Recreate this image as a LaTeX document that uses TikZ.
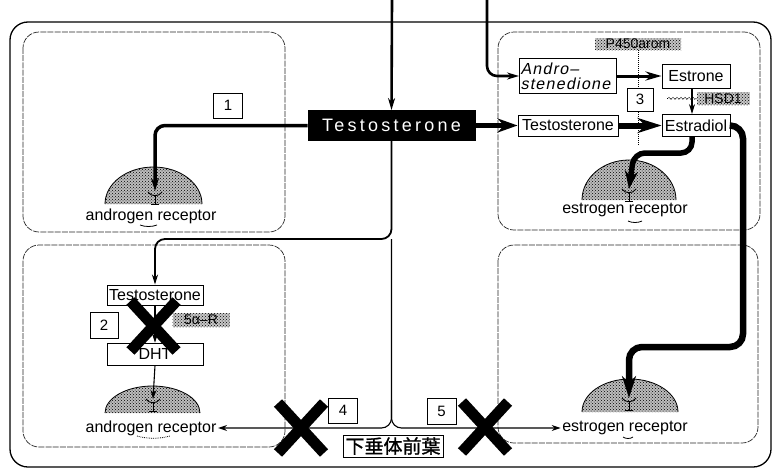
\documentclass[tikz,border=0pt]{standalone}
\usepackage{fontspec}
\setmainfont{Liberation Sans}
\newfontfamily\widef[LetterSpace=18]{Liberation Sans}
\newfontfamily\slantf[FakeSlant=0.2,LetterSpace=8]{Liberation Sans}
\newfontfamily\cjkf[FakeBold=1.2]{Noto Sans CJK JP}
\usetikzlibrary{arrows.meta,patterns,decorations.pathmorphing,calc}
\newcommand\mydome[4]{%
  \fill[black!26] (#1-#3,#2) .. controls (#1-#3,#2-0.552*#4) and (#1-0.552*#3,#2-#4) .. (#1,#2-#4) .. controls (#1+0.552*#3,#2-#4) and (#1+#3,#2-0.552*#4) .. (#1+#3,#2) -- cycle;
  \fill[pattern=crosshatch dots, pattern color=black] (#1-#3,#2) .. controls (#1-#3,#2-0.552*#4) and (#1-0.552*#3,#2-#4) .. (#1,#2-#4) .. controls (#1+0.552*#3,#2-#4) and (#1+#3,#2-0.552*#4) .. (#1+#3,#2) -- cycle;
  \draw[line width=0.8] (#1-#3,#2) .. controls (#1-#3,#2-0.552*#4) and (#1-0.552*#3,#2-#4) .. (#1,#2-#4) .. controls (#1+0.552*#3,#2-#4) and (#1+#3,#2-0.552*#4) .. (#1+#3,#2);}
\begin{document}
\begin{tikzpicture}[x=1pt,y=-1pt,
  box/.style={draw, line width=0.9, fill=white, inner sep=1pt, font=\fontsize{16}{18}\selectfont},
  numbox/.style={draw, line width=0.8, fill=white, inner sep=0pt, minimum width=29, minimum height=25, font=\fontsize{15}{16}\selectfont},
  hatchlbl/.style={preaction={fill=black!22}, pattern=crosshatch dots, pattern color=black, inner sep=1pt, font=\fontsize{14}{15}\selectfont},
  rtext/.style={inner sep=1.5pt, font=\fontsize{16}{18}\selectfont},
  cell/.style={draw=black!85, line width=0.7, rounded corners=16, dash pattern=on 6pt off 1.2pt},
  tarrow/.style={line width=1.1, -{Stealth[length=9pt,width=6pt]}},
  recsym/.pic={\draw[line width=0.9] (-7,-3) .. controls (-4,2) and (4,2) .. (7,-3);
               \draw[line width=0.9] (0,1) -- (0,9) (-4,9) -- (4,9);},
  bigx/.pic={\draw[line width=11pt] (-23,-25) -- (23,25) (23,-25) -- (-23,25);},
]
\useasboundingbox (0,0) rectangle (776,474);
\fill[white] (0,0) rectangle (776,474);

% outer body and cells
\draw[line width=1.3, rounded corners=18] (10,22) rectangle (771,467);
\draw[cell] (23,32) rectangle (285,232);
\draw[cell] (23,245) rectangle (285,447);
\draw[cell] (498,32) rectangle (760,230);
\draw[cell] (498,245) rectangle (758,443);

% receptors (domes)
\mydome{153.5}{204}{48.5}{37}
\mydome{629}{200}{47}{40}
\mydome{152.5}{413}{47.5}{27}
\mydome{630}{412}{48}{33}
\pic at (155,195) {recsym};
\pic at (629,192) {recsym};
\pic at (153,402) {recsym};
\pic at (629,401) {recsym};

\node[rtext] (AR1) at (151,216) {androgen receptor};
\node[rtext] (ER1) at (625,210) {estrogen receptor};
\node[rtext] (AR2) at (151,428) {androgen receptor};
\node[rtext] (ER2) at (625,428) {estrogen receptor};
\draw[line width=0.8] (140,225) .. controls (145,227) and (152,227) .. (157,225);
\draw[line width=0.8] (628,221) .. controls (632,223) and (638,223) .. (642,221);
\draw[line width=0.8, densely dotted] (137,436) .. controls (147,439) and (160,439) .. (170,436);
\draw[line width=0.8] (623,437) .. controls (626,439) and (630,439) .. (633,437);

% boxes
\node[box, fill=black, text=white, font=\widef\fontsize{18}{20}\selectfont, minimum width=167, minimum height=30] (T0) at (391.5,125.5) {Testosterone};
\node[box, minimum width=100, minimum height=21] (TR) at (568,125.5) {Testosterone};
\node[box, align=left, text width=95, font=\slantf\fontsize{16}{15}\selectfont, minimum height=35] (AS) at (568,76) {Andro–\\stenedione};
\node[box, minimum width=68, minimum height=24] (ES) at (696,76) {Estrone};
\node[box, minimum width=68, minimum height=22] (ED) at (696,125.5) {Estradiol};
\node[box, minimum width=96, minimum height=20] (TB) at (155,295) {Testosterone};
\node[box, minimum width=96, minimum height=22] (DHT) at (155,354) {DHT};
\node[box, font=\cjkf\fontsize{19}{20}\selectfont, minimum width=100, minimum height=22] (PIT) at (393,446) {下垂体前葉};

% enzyme labels
\node[hatchlbl, minimum width=86, minimum height=12] (P450) at (638,44) {P450arom};
\node[hatchlbl, minimum width=53, minimum height=13] (HSD) at (723,98.5) {HSD1};
\node[hatchlbl, minimum width=57, minimum height=14] (SAR) at (201,320) {5α–R};
\coordinate (p450end) at (638,146);
\coordinate (hsdend) at (667,98.5);
\draw[line width=1, densely dotted] (P450.south) -- (p450end);
\draw[line width=0.9, densely dotted, decorate, decoration={snake, amplitude=1pt, segment length=4pt}] (HSD.west) -- (hsdend);

% inputs from top
\coordinate (top1) at (392,0);
\coordinate (top2) at (487,0);
\draw[line width=2.6, -{Stealth[length=12pt,width=7pt]}] (top1) -- (T0.north);
\draw[line width=2.6, rounded corners=10, -{Stealth[length=12pt,width=7pt]}] (top2) |- (AS.west);

% targets on receptors
\coordinate (D1top) at (155,191);
\coordinate (D2top) at (629,189);
\coordinate (D3top) at (153,399);
\coordinate (D4top) at (629,398);

\draw[line width=3.5, rounded corners=10, -{Stealth[length=13pt,width=8pt]}] (T0.west) -| (D1top);
\draw[line width=5.5, -{Stealth[length=20pt,width=14pt]}] (T0.east) -- (TR.west);
\draw[line width=6, -{Stealth[length=24pt,width=15pt]}] (TR.east) -- (ED.west);
\draw[line width=3, -{Stealth[length=16pt,width=9pt]}] (AS.east) -- (ES.west);
\draw[line width=1.4, -{Stealth[length=10pt,width=6pt]}] ($(ES.south)+(-4,0)$) -- ($(ED.north)+(-4,0)$);
\draw[line width=5.5, rounded corners=11, -{Stealth[length=18pt,width=13pt]}] ($(ED.south)+(-4,0)$) |- (634,153) -- (D2top);
\draw[line width=6.5, rounded corners=13, -{Stealth[length=22pt,width=14pt]}] (ED.east) -- (743,125.5) -- (743,347) -- (629,347) -- (D4top);

% left branch
\draw[line width=1.8, rounded corners=10, -{Stealth[length=10pt,width=6pt]}] (T0.south) |- (155,239) -- (TB.north);
\draw[tarrow] (TB.south) -- (DHT.north);
\draw[tarrow] (DHT.south) -- (D3top);

% middle divider and pituitary arrows
\coordinate (J) at (391.5,239);
\draw[tarrow, rounded corners=10] (J) -- (391.5,428) -- (AR2.east);
\draw[tarrow, rounded corners=10] (391.5,400) -- (391.5,428) -- (ER2.west);

% number boxes
\node[numbox] (N1) at (228,105.5) {1};
\node[numbox, minimum width=28, minimum height=26] (N2) at (104,325) {2};
\node[numbox, minimum width=26, minimum height=23] (N3) at (640,99.5) {3};
\node[numbox] (N4) at (343,410.5) {4};
\node[numbox, minimum height=26] (N5) at (441.5,411) {5};

% crosses
\pic at (153.5,326) {bigx};
\pic at (301,428) {bigx};
\pic at (485,427) {bigx};
\end{tikzpicture}
\end{document}
